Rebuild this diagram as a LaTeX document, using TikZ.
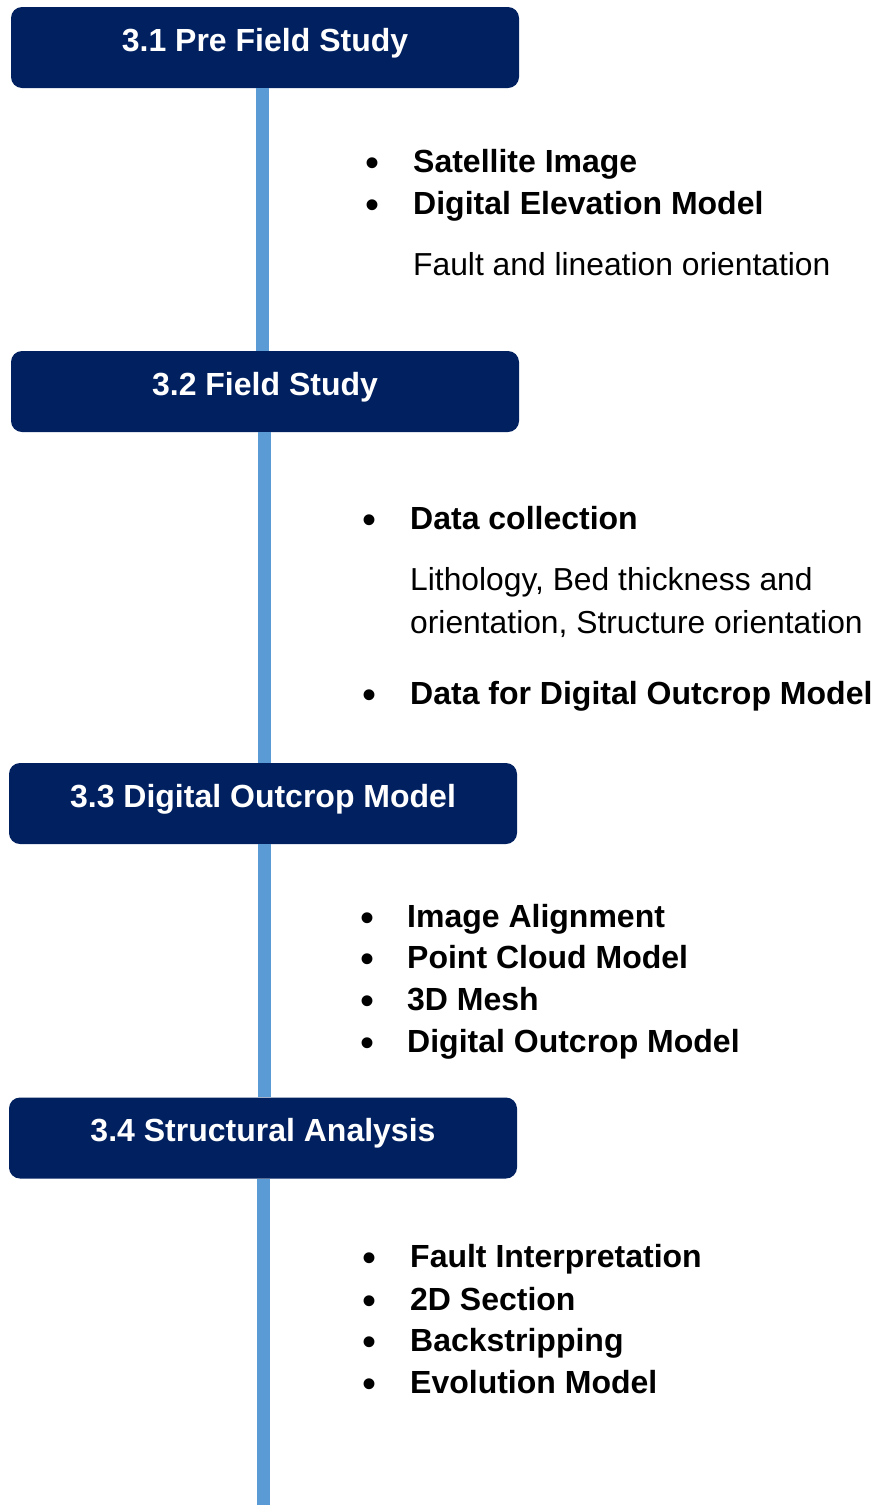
\documentclass[tikz,border=0pt]{standalone}
\usepackage{fontspec}
\setmainfont{Liberation Sans}
\newfontfamily\headfont{Liberation Sans}
\newfontfamily\bodyfont{Liberation Sans}
\definecolor{navy}{RGB}{0,32,96}
\definecolor{lineblue}{RGB}{91,155,213}
\tikzset{
  stage/.style={fill=navy, rounded corners=11pt, minimum width=508pt, minimum height=81pt,
    inner sep=0pt, text=white, font=\headfont\bfseries\fontsize{32}{36}\selectfont,
    text height=22pt, text depth=15pt},
  conn/.style={draw=lineblue, line width=13pt},
  item/.style={anchor=west, inner sep=0pt, text height=20pt, text depth=0pt,
    font=\bodyfont\bfseries\fontsize{32}{36}\selectfont},
  note/.style={anchor=west, inner sep=0pt, text height=20pt, text depth=0pt,
    font=\bodyfont\fontsize{31.8}{36}\selectfont},
  bul/.style={inner sep=0pt, text height=28pt, text depth=0pt,
    font=\bodyfont\fontsize{40}{44}\selectfont}
}
\begin{document}
\begin{tikzpicture}[x=1pt,y=-1pt]
\useasboundingbox (0,0) rectangle (875,1505);
% stages
\node[stage] (b1) at (265,47.5) {3.1 Pre Field Study};
\node[stage] (b2) at (265,391.5) {3.2 Field Study};
\node[stage] (b3) at (263,803.5) {3.3 Digital Outcrop Model};
\node[stage] (b4) at (263,1138) {3.4 Structural Analysis};
\coordinate (end) at (263.5,1505);
% connectors
\draw[conn] ([xshift=-2.3pt]b1.south) -- ([xshift=-2.3pt]b2.north);
\draw[conn] ([xshift=-1pt]b2.south) -- ([xshift=1pt]b3.north);
\draw[conn] ([xshift=1pt]b3.south) -- ([xshift=1pt]b4.north);
\draw[conn] ([xshift=0.5pt]b4.south) -- (end);
% 3.1 items
\node[bul] (d1) at (372,162) {•};
\node[item] (t1) at (413,162) {Satellite Image};
\node[bul] (d2) at (372,204) {•};
\node[item] (t2) at (413,204) {Digital Elevation Model};
\node[note] (n1) at (413,265) {Fault and lineation orientation};
% 3.2 items
\node[bul] (d3) at (369,519) {•};
\node[item] (t3) at (410,519) {Data collection};
\node[note] (n2) at (410,580) {Lithology, Bed thickness and};
\node[note] (n3) at (410,623) {orientation, Structure orientation};
\node[bul] (d4) at (369,694) {•};
\node[item] (t4) at (410,694) {Data for Digital Outcrop Model};
% 3.3 items
\node[bul] (d5) at (367,917) {•};
\node[item] (t5) at (407,917) {Image Alignment};
\node[bul] (d6) at (367,958) {•};
\node[item] (t6) at (407,958) {Point Cloud Model};
\node[bul] (d7) at (367,1000) {•};
\node[item] (t7) at (407,1000) {3D Mesh};
\node[bul] (d8) at (367,1042) {•};
\node[item] (t8) at (407,1042) {Digital Outcrop Model};
% 3.4 items
\node[bul] (d9) at (369,1257) {•};
\node[item] (t9) at (410,1257) {Fault Interpretation};
\node[bul] (d10) at (369,1300) {•};
\node[item] (t10) at (410,1300) {2D Section};
\node[bul] (d11) at (369,1341) {•};
\node[item] (t11) at (410,1341) {Backstripping};
\node[bul] (d12) at (369,1383) {•};
\node[item] (t12) at (410,1383) {Evolution Model};
\end{tikzpicture}
\end{document}
